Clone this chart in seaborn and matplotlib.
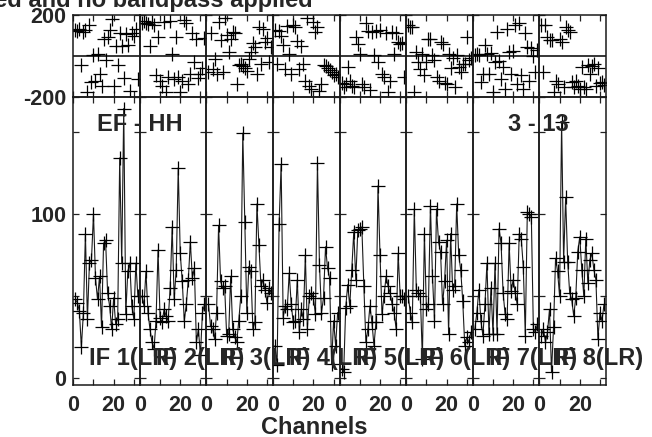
import numpy as np
import pandas as pd
import matplotlib
matplotlib.use("Agg")
import matplotlib.pyplot as plt
import seaborn as sns

# channel numbers (same in every IF)
channels = list(range(1, 33))
if_labels = ["IF 1(LR)", "IF 2(LR)", "IF 3(LR)", "IF 4(LR)",
             "IF 5(LR)", "IF 6(LR)", "IF 7(LR)", "IF 8(LR)"]

# amplitude per IF
amp_if1 = [48, 46, 41, 19, 40, 88, 36, 70, 72, 100, 61, 48, 62, 31, 82, 84,
           52, 44, 30, 49, 33, 36, 134, 70, 164, 39, 65, 70, 44, 36, 70, 50]
amp_if2 = [50, 44, 65, 40, 30, 22, 18, 35, 78, 37, 34, 42, 38, 35, 55, 92,
           48, 66, 128, 76, 59, 35, 45, 60, 83, 61, 67, 22, 30, 14, 40, 45]
amp_if3 = [45, 32, 30, 24, 40, 93, 59, 55, 56, 26, 27, 62, 30, 25, 22, 35,
           50, 149, 95, 40, 68, 65, 30, 34, 106, 81, 56, 60, 54, 46, 55, 52]
amp_if4 = [20, 8, 94, 130, 37, 44, 42, 64, 45, 34, 35, 60, 28, 42, 36, 75,
           30, 50, 52, 49, 39, 131, 69, 40, 49, 80, 67, 61, 9, 35, 20, 40]
amp_if5 = [6, 4, 43, 57, 44, 66, 89, 60, 90, 91, 92, 56, 22, 30, 44, 34,
           20, 34, 117, 75, 39, 50, 62, 56, 52, 45, 40, 30, 76, 50, 50, 48]
amp_if6 = [50, 40, 34, 103, 54, 52, 50, 12, 88, 42, 45, 105, 62, 35, 103, 83,
           77, 45, 59, 84, 27, 88, 54, 56, 106, 75, 66, 47, 20, 25, 22, 28]
amp_if7 = [30, 40, 54, 35, 26, 45, 70, 27, 55, 27, 70, 27, 91, 82, 52, 39,
           36, 82, 53, 60, 52, 45, 88, 85, 68, 26, 101, 100, 98, 30, 28, 33]
amp_if8 = [26, 30, 22, 28, 42, 4, 31, 73, 65, 50, 156, 71, 110, 71, 52, 48,
           38, 49, 77, 86, 66, 50, 85, 58, 72, 76, 66, 60, 24, 40, 35, 45]

# phase per IF (degrees)
ph_if1 = [125, 120, 130, -45, 118, 126, -175, 150, -128, 5, -120, 8, -90, -145, 85, -20,
          95, 125, 180, -145, 50, -45, 110, 50, -105, 105, 55, -170, 110, 100, 130, -110]
ph_if2 = [160, 170, 160, 155, 50, 165, 150, -95, 92, -120, -145, 165, -175, -103, 170, 12,
          -110, 92, -100, -175, -120, 175, 160, -135, -90, 110, -30, 85, -105, -87, -60, 90]
ph_if3 = [-80, 110, -62, -14, -87, 167, 77, -80, 185, 102, 20, 85, 118, 110, -136, -46,
          -38, -50, -60, -75, -14, 20, 61, 44, -87, 143, -40, 130, 70, 90, -30, 45]
ph_if4 = [125, -38, 120, 100, 55, -62, 145, 10, -87, 150, 140, 75, -62, 50, -38, -120,
          185, -145, -160, 165, 118, 140, -170, -136, -46, -50, -60, -70, -80, -95, -90, -100]
ph_if5 = [-130, -150, -136, -55, -120, -145, -150, 95, 60, 10, -136, -150, 160, 120, -165, 115,
          5, 120, -30, 125, -90, -100, 110, -175, -120, 115, 10, 110, 70, 60, 65, -100]
ph_if6 = [150, 140, 142, -177, 20, -30, -62, 11, -95, -30, 85, 85, 3, -20, -103, -120,
          69, 60, -130, -136, 10, -60, -10, -152, 5, -55, -80, -40, -40, 93, -20, -10]
ph_if7 = [5, 10, 5, -128, -87, 52, 11, -87, 15, -177, -30, 118, -25, -111, -54, -160,
          134, 20, -90, 25, 151, -136, 159, -95, -160, 110, 44, -120, 40, 0, -80, 30]
ph_if8 = [151, -79, 150, 93, 77, 80, -177, -120, -136, 85, 70, -150, 143, 125, 118, -128,
          -150, -120, -145, -160, -54, -150, -160, -46, -87, -50, -40, -144, -60, -130, -125, -140]

amps = [amp_if1, amp_if2, amp_if3, amp_if4, amp_if5, amp_if6, amp_if7, amp_if8]
phases = [ph_if1, ph_if2, ph_if3, ph_if4, ph_if5, ph_if6, ph_if7, ph_if8]

sns.set_theme(style="ticks")
plt.rcParams["font.family"] = ["Liberation Sans", "DejaVu Sans"]
plt.rcParams["font.weight"] = "bold"

W, H = 652, 437
fig, axes = plt.subplots(2, 8, figsize=(W / 100, H / 100), dpi=100,
                         gridspec_kw=dict(height_ratios=[82, 288], wspace=0, hspace=0,
                                          left=73.3 / W, right=606 / W,
                                          top=1 - 15 / H, bottom=1 - 385 / H))
fig.patch.set_facecolor("white")

for i in range(8):
    ax_p = axes[0, i]
    ax_a = axes[1, i]
    df = pd.DataFrame({"channel": channels, "amp": amps[i], "phase": phases[i]})

    sns.scatterplot(data=df, x="channel", y="phase", ax=ax_p, marker="+",
                    color="black", s=95, linewidth=0.9, legend=False)
    ax_p.axhline(0, color="black", lw=1.1)

    sns.lineplot(data=df, x="channel", y="amp", ax=ax_a, color="#1a1a1a", lw=0.8,
                 marker="+", markersize=10, markeredgecolor="black",
                 markeredgewidth=0.9, legend=False)

    for ax in (ax_p, ax_a):
        ax.patch.set_visible(False)
        ax.set_xlim(0, 33)
        ax.set_xticks([0, 10, 20, 30])
        ax.set_xlabel("")
        ax.set_ylabel("")
        for s in ax.spines.values():
            s.set_visible(True)
            s.set_color("#1a1a1a")
            s.set_linewidth(1.1)
        ax.tick_params(direction="in", length=4, width=0.9, color="#222222",
                       top=True, bottom=True, left=True, right=True,
                       labelsize=15.5, pad=5)

    ax_p.set_ylim(-200, 200)
    ax_p.set_yticks([-200, 200])
    ax_p.set_yticklabels(["-200", "200"])
    ax_p.tick_params(labelbottom=False)

    ax_a.set_ylim(-4, 171)
    ax_a.set_yticks([0, 50, 100, 150])
    ax_a.set_yticklabels(["0", "", "100", ""])
    ax_a.set_xticklabels(["0", "", "20", ""])
    ax_a.tick_params(axis="x", pad=7)

    if i > 0:
        ax_p.tick_params(labelleft=False)
        ax_a.tick_params(labelleft=False)

    for lab in ax_a.get_xticklabels() + ax_a.get_yticklabels() + ax_p.get_yticklabels():
        lab.set_fontweight("bold")

    fig.text((73.3 + 66.6 * i + 16) / W, 1 - 365 / H, if_labels[i],
             fontsize=17, fontweight="bold", va="baseline", ha="left")

fig.text(97 / W, 1 - 131 / H, "EF - HH", fontsize=17, fontweight="bold", va="baseline")
fig.text(508 / W, 1 - 131 / H, "3 - 13", fontsize=17, fontweight="bold", va="baseline")
fig.text(313 / W, 1 - 7.5 / H, "No calibration applied and no bandpass applied",
         fontsize=17, fontweight="bold", ha="right", va="baseline")
fig.text(314 / W, 1 - 434 / H, "Channels", fontsize=17, fontweight="bold",
         ha="center", va="baseline")

fig.savefig("out.png", dpi=100, facecolor="white")
